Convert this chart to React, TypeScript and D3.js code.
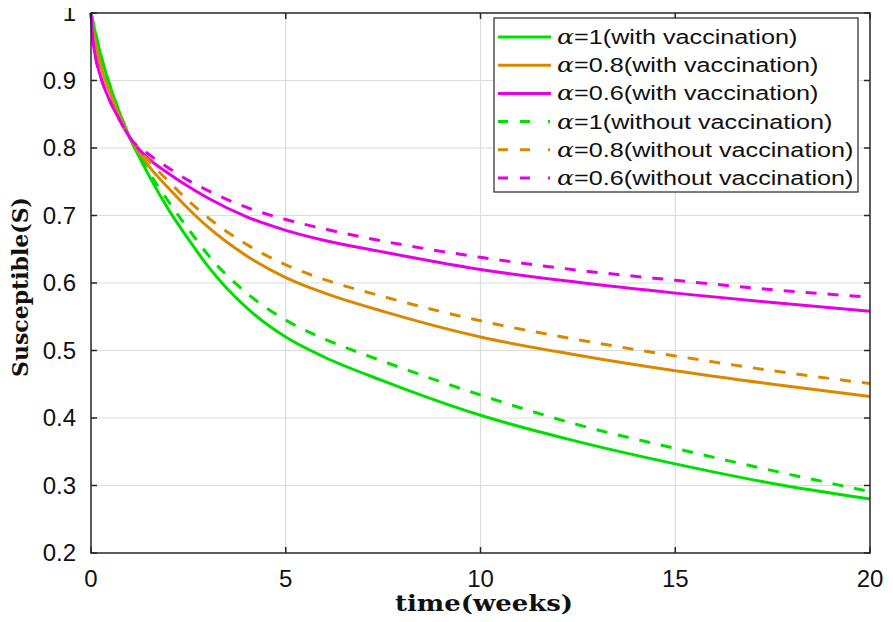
import React, { useEffect, useRef } from "react";
import * as d3 from "d3";

// time points (weeks)
const weeks = [0, 0.05, 0.1, 0.25, 0.5, 0.75, 1, 1.5, 2, 2.5, 3, 4, 5, 6, 7.5, 10, 12.5, 15, 17.5, 20];

// susceptible fraction
const a1With = [1, 0.987, 0.974, 0.938, 0.89, 0.85, 0.815, 0.758, 0.708, 0.665, 0.625, 0.563, 0.52, 0.49, 0.455, 0.404, 0.365, 0.332, 0.303, 0.28];
const a08With = [1, 0.975, 0.96, 0.922, 0.88, 0.845, 0.815, 0.772, 0.74, 0.71, 0.683, 0.64, 0.608, 0.585, 0.558, 0.52, 0.493, 0.47, 0.45, 0.432];
const a06With = [1, 0.96, 0.94, 0.905, 0.868, 0.84, 0.815, 0.783, 0.762, 0.743, 0.726, 0.698, 0.678, 0.663, 0.646, 0.62, 0.601, 0.585, 0.571, 0.558];
const a1Without = [1, 0.987, 0.974, 0.938, 0.89, 0.85, 0.815, 0.763, 0.72, 0.68, 0.642, 0.585, 0.545, 0.517, 0.484, 0.434, 0.39, 0.355, 0.322, 0.291];
const a08Without = [1, 0.975, 0.96, 0.922, 0.88, 0.845, 0.815, 0.78, 0.75, 0.722, 0.697, 0.657, 0.627, 0.605, 0.58, 0.544, 0.516, 0.492, 0.47, 0.451];
const a06Without = [1, 0.96, 0.94, 0.905, 0.868, 0.84, 0.815, 0.79, 0.77, 0.752, 0.737, 0.712, 0.694, 0.68, 0.662, 0.638, 0.619, 0.604, 0.59, 0.579];

const xTicks = [0, 5, 10, 15, 20];
const yTicks = [0.2, 0.3, 0.4, 0.5, 0.6, 0.7, 0.8, 0.9, 1];

const series = [
  { alpha: "1", label: "(with vaccination)", values: a1With, color: "#00e000", dashed: false },
  { alpha: "0.8", label: "(with vaccination)", values: a08With, color: "#d98800", dashed: false },
  { alpha: "0.6", label: "(with vaccination)", values: a06With, color: "#e600e6", dashed: false },
  { alpha: "1", label: "(without vaccination)", values: a1Without, color: "#00e000", dashed: true },
  { alpha: "0.8", label: "(without vaccination)", values: a08Without, color: "#d98800", dashed: true },
  { alpha: "0.6", label: "(without vaccination)", values: a06Without, color: "#e600e6", dashed: true },
];

export default function App() {
  const ref = useRef<SVGSVGElement>(null);

  useEffect(() => {
    const svg = d3.select(ref.current);
    svg.selectAll("*").remove();

    const left = 91, right = 870, top = 13, bottom = 553;
    const x = d3.scaleLinear().domain([0, 20]).range([left, right]);
    const y = d3.scaleLinear().domain([0.2, 1]).range([bottom, top]);

    const g = svg.append("g");

    // grid
    g.selectAll(".vgrid")
      .data(xTicks.slice(1, -1))
      .enter()
      .append("line")
      .attr("x1", (d) => x(d)).attr("x2", (d) => x(d))
      .attr("y1", top).attr("y2", bottom)
      .attr("stroke", "#dcdcdc").attr("stroke-width", 1.2);
    g.selectAll(".hgrid")
      .data(yTicks.slice(1, -1))
      .enter()
      .append("line")
      .attr("y1", (d) => y(d)).attr("y2", (d) => y(d))
      .attr("x1", left).attr("x2", right)
      .attr("stroke", "#dcdcdc").attr("stroke-width", 1.2);

    // curves
    const line = d3
      .line<number>()
      .x((d, i) => x(weeks[i]))
      .y((d) => y(d))
      .curve(d3.curveMonotoneX);

    series.forEach((s) => {
      g.append("path")
        .attr("d", line(s.values))
        .attr("fill", "none")
        .attr("stroke", s.color)
        .attr("stroke-width", 3)
        .attr("stroke-dasharray", s.dashed ? "11,11" : null);
    });

    // frame and ticks
    g.append("rect")
      .attr("x", left).attr("y", top)
      .attr("width", right - left).attr("height", bottom - top)
      .attr("fill", "none").attr("stroke", "#262626").attr("stroke-width", 1.5);

    const tl = 6;
    xTicks.forEach((t) => {
      g.append("line").attr("x1", x(t)).attr("x2", x(t)).attr("y1", bottom).attr("y2", bottom - tl).attr("stroke", "#262626").attr("stroke-width", 1.5);
      g.append("line").attr("x1", x(t)).attr("x2", x(t)).attr("y1", top).attr("y2", top + tl).attr("stroke", "#262626").attr("stroke-width", 1.5);
    });
    yTicks.forEach((t) => {
      g.append("line").attr("y1", y(t)).attr("y2", y(t)).attr("x1", left).attr("x2", left + tl).attr("stroke", "#262626").attr("stroke-width", 1.5);
      g.append("line").attr("y1", y(t)).attr("y2", y(t)).attr("x1", right).attr("x2", right - tl).attr("stroke", "#262626").attr("stroke-width", 1.5);
    });

    // tick labels
    g.selectAll(".xt")
      .data(xTicks)
      .enter()
      .append("text")
      .attr("x", (d) => x(d))
      .attr("y", 587)
      .attr("text-anchor", "middle")
      .attr("font-family", "Liberation Sans, Arial, sans-serif")
      .attr("font-size", 24)
      .attr("fill", "#111")
      .text((d) => d3.format("")(d));
    g.selectAll(".yt")
      .data(yTicks)
      .enter()
      .append("text")
      .attr("x", 76)
      .attr("y", (d) => y(d) + 8)
      .attr("text-anchor", "end")
      .attr("font-family", "Liberation Sans, Arial, sans-serif")
      .attr("font-size", 24)
      .attr("fill", "#111")
      .text((d) => (d === 1 ? "1" : d3.format(".1f")(d)));

    // axis titles
    g.append("text")
      .attr("x", 484).attr("y", 611)
      .attr("text-anchor", "middle")
      .attr("font-family", "DejaVu Serif, serif")
      .attr("font-weight", "bold")
      .attr("font-size", 22)
      .attr("textLength", 178)
      .attr("lengthAdjust", "spacingAndGlyphs")
      .attr("fill", "#111")
      .text("time(weeks)");
    g.append("text")
      .attr("transform", "translate(28,287) rotate(-90)")
      .attr("text-anchor", "middle")
      .attr("font-family", "DejaVu Serif, serif")
      .attr("font-weight", "bold")
      .attr("font-size", 22)
      .attr("textLength", 180)
      .attr("lengthAdjust", "spacingAndGlyphs")
      .attr("fill", "#111")
      .text("Susceptible(S)");

    // legend
    const lx = 494, ly = 18, lw = 364, lh = 174, rowH = 28.2;
    const leg = g.append("g");
    leg.append("rect")
      .attr("x", lx).attr("y", ly).attr("width", lw).attr("height", lh)
      .attr("fill", "white").attr("stroke", "#262626").attr("stroke-width", 1.2);
    series.forEach((s, i) => {
      const cy = ly + 19 + i * rowH;
      leg.append("line")
        .attr("x1", lx + 4).attr("x2", lx + 57)
        .attr("y1", cy).attr("y2", cy)
        .attr("stroke", s.color).attr("stroke-width", 3)
        .attr("stroke-dasharray", s.dashed ? "10,12,10,18,2" : null);
      const t = leg.append("text")
        .attr("transform", `translate(${lx + 63},${cy + 7}) scale(1.2,1)`)
        .attr("font-family", "Liberation Sans, Arial, sans-serif")
        .attr("font-size", 21)
        .attr("fill", "#111");
      t.append("tspan").attr("font-family", "DejaVu Serif, serif").attr("font-style", "italic").text("α");
      t.append("tspan").text(`=${s.alpha}${s.label}`);
    });
  }, []);

  return (
    <svg ref={ref} width={893} height={622} style={{ display: "block", margin: "-8px", background: "white" }} />
  );
}
